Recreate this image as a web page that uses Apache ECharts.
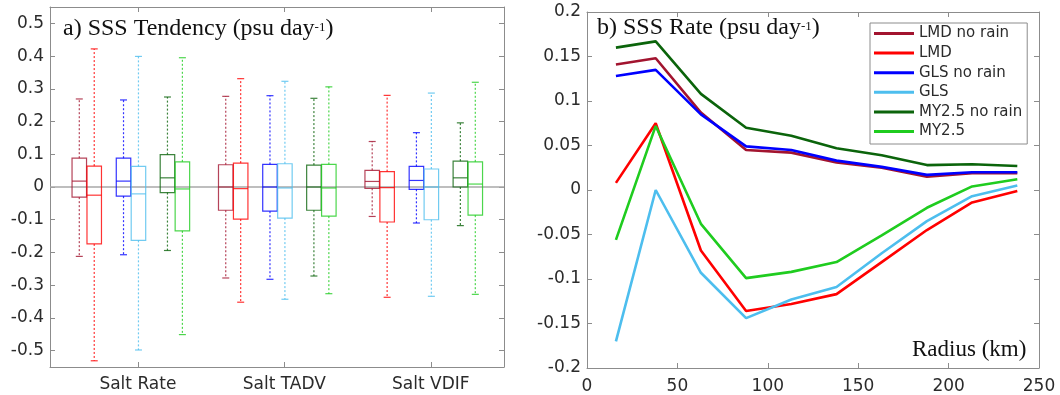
<!DOCTYPE html>
<html>
<head>
<meta charset="utf-8">
<script src="https://cdn.jsdelivr.net/npm/echarts@6/dist/echarts.min.js"></script>
<style>
html,body{margin:0;padding:0;background:#fff;}
#chart{width:1060px;height:395px;}
</style>
</head>
<body>
<div id="chart"></div>
<script>
// ---------- data ----------
const categories = ['Salt Rate', 'Salt TADV', 'Salt VDIF'];
const models = ['LMD no rain', 'LMD', 'GLS no rain', 'GLS', 'MY2.5 no rain', 'MY2.5'];
// box stats per model, per category: [lower whisker, q1, median, q3, upper whisker]
const boxLMDnr = [[-0.212, -0.031, 0.018, 0.088, 0.269], [-0.278, -0.071, 0.000, 0.068, 0.277], [-0.090, -0.004, 0.017, 0.051, 0.139]];
const boxLMD   = [[-0.531, -0.174, -0.025, 0.064, 0.422], [-0.352, -0.098, -0.005, 0.073, 0.331], [-0.337, -0.107, -0.002, 0.047, 0.280]];
const boxGLSnr = [[-0.207, -0.028, 0.018, 0.088, 0.266], [-0.282, -0.074, 0.000, 0.069, 0.279], [-0.110, -0.007, 0.020, 0.063, 0.166]];
const boxGLS   = [[-0.498, -0.163, -0.021, 0.063, 0.399], [-0.343, -0.095, -0.003, 0.071, 0.323], [-0.334, -0.100, 0.000, 0.055, 0.287]];
const boxMYnr  = [[-0.194, -0.017, 0.028, 0.099, 0.275], [-0.272, -0.071, 0.000, 0.067, 0.271], [-0.118, 0.000, 0.028, 0.079, 0.196]];
const boxMY    = [[-0.451, -0.134, -0.006, 0.077, 0.395], [-0.326, -0.089, -0.003, 0.069, 0.306], [-0.328, -0.086, 0.009, 0.077, 0.320]];
const boxStats = [boxLMDnr, boxLMD, boxGLSnr, boxGLS, boxMYnr, boxMY];

const radius = [16, 38, 63, 88, 113, 138, 163, 188, 213, 238];
const rateLMDnr = [0.141, 0.148, 0.087, 0.045, 0.042, 0.031, 0.025, 0.015, 0.019, 0.019];
const rateLMD   = [0.008, 0.075, -0.068, -0.136, -0.128, -0.117, -0.081, -0.045, -0.014, -0.001];
const rateGLSnr = [0.128, 0.135, 0.085, 0.049, 0.045, 0.033, 0.026, 0.017, 0.020, 0.020];
const rateGLS   = [-0.170, 0.000, -0.093, -0.144, -0.123, -0.109, -0.071, -0.035, -0.007, 0.005];
const rateMYnr  = [0.160, 0.167, 0.108, 0.070, 0.061, 0.047, 0.039, 0.028, 0.029, 0.027];
const rateMY    = [-0.056, 0.072, -0.038, -0.099, -0.092, -0.081, -0.051, -0.020, 0.004, 0.012];
const rates = [rateLMDnr, rateLMD, rateGLSnr, rateGLS, rateMYnr, rateMY];

const yTicksA = [-0.5, -0.4, -0.3, -0.2, -0.1, 0, 0.1, 0.2, 0.3, 0.4, 0.5];
const xTicksA = [1, 2, 3];

// ---------- style / layout ----------
const colors = ['#A2142F', '#FF0000', '#0000FF', '#4DBEEE', '#0B640B', '#1FCC1F'];
const boxOffsets = [-0.400, -0.298, -0.098, 0.004, 0.202, 0.304];
const boxWidth = 0.099;
const frameColor = '#8c8c8c';
const labelColor = '#2b2b2b';
const tickFont = {fontFamily: 'DejaVu Sans', fontSize: 17, color: labelColor};

function renderBox(params, api) {
  const si = params.seriesIndex;
  const col = colors[si];
  const g = api.value(0);
  const lo = api.value(1), q1 = api.value(2), med = api.value(3), q3 = api.value(4), hi = api.value(5);
  const xc = api.coord([g + boxOffsets[si], 0])[0];
  const hw = api.size([boxWidth, 0])[0] / 2;
  const yLo = api.coord([g, lo])[1], yQ1 = api.coord([g, q1])[1], yMed = api.coord([g, med])[1];
  const yQ3 = api.coord([g, q3])[1], yHi = api.coord([g, hi])[1];
  const cap = 3.5;
  const ls = {stroke: col, lineWidth: 1.2, opacity: 0.8};
  const ds = {stroke: col, lineWidth: 1.2, opacity: 0.8, lineDash: [2, 2]};
  return {
    type: 'group',
    children: [
      {type: 'line', shape: {x1: xc, y1: yQ3, x2: xc, y2: yHi}, style: ds},
      {type: 'line', shape: {x1: xc, y1: yQ1, x2: xc, y2: yLo}, style: ds},
      {type: 'line', shape: {x1: xc - cap, y1: yHi, x2: xc + cap, y2: yHi}, style: ls},
      {type: 'line', shape: {x1: xc - cap, y1: yLo, x2: xc + cap, y2: yLo}, style: ls},
      {type: 'rect', shape: {x: xc - hw, y: yQ3, width: 2 * hw, height: yQ1 - yQ3}, style: Object.assign({fill: 'none'}, ls)},
      {type: 'line', shape: {x1: xc - hw, y1: yMed, x2: xc + hw, y2: yMed}, style: ls}
    ]
  };
}

function fmt(v) { return String(Math.round(v * 1000) / 1000); }

const axisLine = {show: true, onZero: false, lineStyle: {color: frameColor, width: 1}};
const tickIn = {show: true, inside: true, length: 5, lineStyle: {color: frameColor}};

const series = [];
boxStats.forEach((stats, m) => {
  series.push({
    name: 'box' + m,
    type: 'custom',
    xAxisIndex: 0, yAxisIndex: 0,
    renderItem: renderBox,
    encode: {x: 0, y: [1, 2, 3, 4, 5]},
    data: stats.map((s, i) => [i + 1].concat(s)),
    z: 3,
    markLine: m === 0 ? {
      silent: true, symbol: 'none', label: {show: false},
      lineStyle: {color: '#a8a8a8', width: 1.5, type: 'solid'},
      data: [{yAxis: 0}], z: 2
    } : undefined
  });
});
rates.forEach((vals, m) => {
  series.push({
    name: models[m],
    type: 'line',
    xAxisIndex: 2, yAxisIndex: 2,
    symbol: 'none',
    color: colors[m],
    lineStyle: {width: 2.6, color: colors[m]},
    data: radius.map((r, i) => [r, vals[i]]),
    z: 3 + m
  });
});

const option = {
  animation: false,
  backgroundColor: '#fff',
  grid: [
    {left: 50, right: 556, top: 7, bottom: 28, containLabel: false},
    {left: 587, right: 21, top: 12, bottom: 24, containLabel: false}
  ],
  xAxis: [
    {gridIndex: 0, type: 'value', min: 0.4, max: 3.5, position: 'bottom',
     axisLine: axisLine, splitLine: {show: false},
     axisTick: Object.assign({customValues: xTicksA}, tickIn),
     axisLabel: Object.assign({customValues: xTicksA, margin: 9, formatter: v => categories[Math.round(v) - 1] || ''}, tickFont)},
    {gridIndex: 0, type: 'value', min: 0.4, max: 3.5, position: 'top',
     axisLine: axisLine, splitLine: {show: false},
     axisTick: Object.assign({customValues: xTicksA}, tickIn), axisLabel: {show: false}},
    {gridIndex: 1, type: 'value', min: 0, max: 250, interval: 50, position: 'bottom',
     axisLine: axisLine, splitLine: {show: false}, axisTick: tickIn,
     axisLabel: Object.assign({margin: 10}, tickFont)},
    {gridIndex: 1, type: 'value', min: 0, max: 250, interval: 50, position: 'top',
     axisLine: axisLine, splitLine: {show: false}, axisTick: tickIn, axisLabel: {show: false}}
  ],
  yAxis: [
    {gridIndex: 0, type: 'value', min: -0.55, max: 0.55, position: 'left',
     axisLine: axisLine, splitLine: {show: false},
     axisTick: Object.assign({customValues: yTicksA}, tickIn),
     axisLabel: Object.assign({customValues: yTicksA, margin: 6, formatter: fmt}, tickFont)},
    {gridIndex: 0, type: 'value', min: -0.55, max: 0.55, position: 'right',
     axisLine: axisLine, splitLine: {show: false},
     axisTick: Object.assign({customValues: yTicksA}, tickIn), axisLabel: {show: false}},
    {gridIndex: 1, type: 'value', min: -0.2, max: 0.2, interval: 0.05, position: 'left',
     axisLine: axisLine, splitLine: {show: false}, axisTick: tickIn,
     axisLabel: Object.assign({margin: 6, formatter: fmt}, tickFont)},
    {gridIndex: 1, type: 'value', min: -0.2, max: 0.2, interval: 0.05, position: 'right',
     axisLine: axisLine, splitLine: {show: false}, axisTick: tickIn, axisLabel: {show: false}}
  ],
  legend: {
    orient: 'vertical', left: 870, top: 23,
    data: models,
    icon: 'rect', itemWidth: 40, itemHeight: 3, itemGap: 4.6,
    padding: [3, 5, 5, 4],
    borderColor: '#8c8c8c', borderWidth: 1, backgroundColor: '#fff',
    textStyle: {fontFamily: 'DejaVu Sans', fontSize: 15, color: labelColor, lineHeight: 14.6}
  },
  graphic: [
    {type: 'text', left: 63, top: 17, z: 10,
     style: {text: '{t|a) SSS Tendency (psu day}{s|-1}{t|)}',
       rich: {t: {fontFamily: 'Liberation Serif', fontSize: 24, fill: '#111'},
              s: {fontFamily: 'Liberation Serif', fontSize: 13, fill: '#111', padding: [0, 0, 2, 0]}}}},
    {type: 'text', left: 597, top: 16, z: 10,
     style: {text: '{t|b) SSS Rate (psu day}{s|-1}{t|)}',
       rich: {t: {fontFamily: 'Liberation Serif', fontSize: 24, fill: '#111'},
              s: {fontFamily: 'Liberation Serif', fontSize: 13, fill: '#111', padding: [0, 0, 2, 0]}}}},
    {type: 'text', left: 912, top: 338, z: 10,
     style: {text: 'Radius (km)', fontFamily: 'Liberation Serif', fontSize: 23, fill: '#111'}}
  ],
  series: series
};

const chart = echarts.init(document.getElementById('chart'), null, {renderer: 'canvas'});
chart.setOption(option);
</script>
</body>
</html>
